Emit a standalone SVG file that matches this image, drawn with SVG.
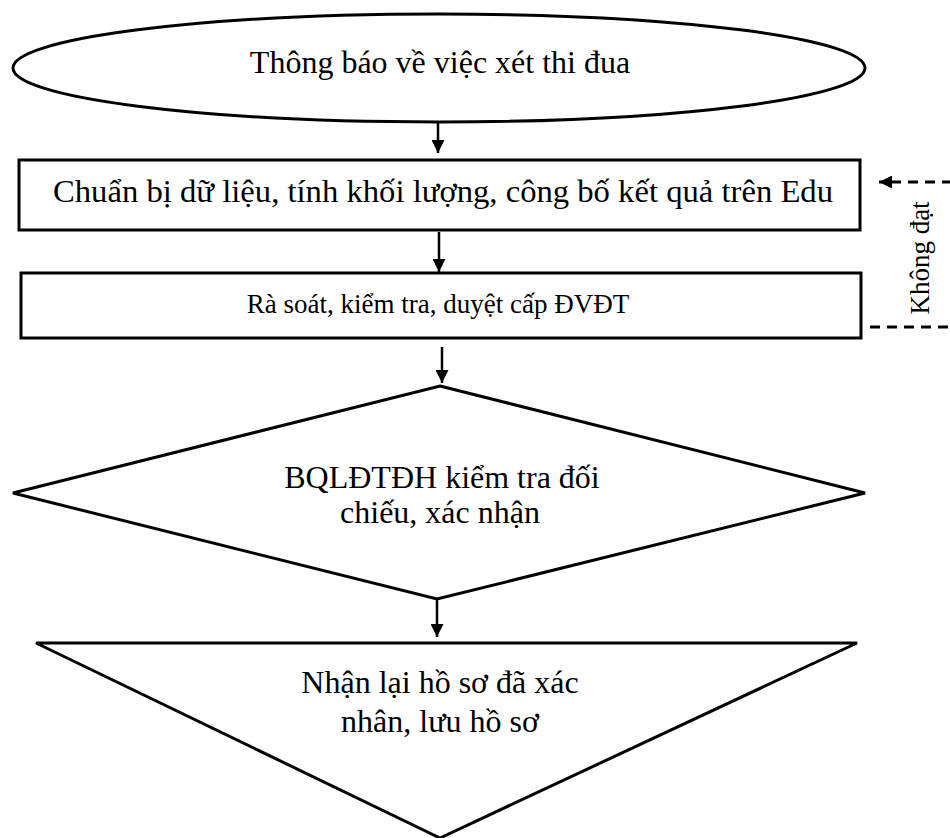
<svg xmlns="http://www.w3.org/2000/svg" width="950" height="838" viewBox="0 0 950 838">
<defs>
<style>
.shape{fill:#fff;stroke:#000;stroke-width:3}
.t{font-family:"Liberation Serif","Times New Roman",serif;font-size:32px;fill:#000;text-anchor:middle}
.s{font-size:27px}
.line{stroke:#000;stroke-width:2.5;fill:none}
.dash{stroke:#000;stroke-width:3;fill:none;stroke-dasharray:10 7}
</style>
<marker id="ah" viewBox="0 0 10 10" refX="10" refY="5" markerWidth="13" markerHeight="13" markerUnits="userSpaceOnUse" orient="auto">
<path d="M0,0 L10,5 L0,10 z" fill="#000"/>
</marker>
</defs>
<rect width="950" height="838" fill="#fff"/>
<g id="n1">
<ellipse class="shape" cx="439" cy="68" rx="426" ry="54"/>
<text class="t" x="440" y="73">Thông báo về việc xét thi đua</text>
</g>
<g id="n2">
<rect class="shape" x="19" y="160" width="841" height="70"/>
<text class="t" x="443" y="202" textLength="780" lengthAdjust="spacingAndGlyphs">Chuẩn bị dữ liệu, tính khối lượng, công bố kết quả trên Edu</text>
</g>
<g id="n3">
<rect class="shape" x="21" y="273" width="840" height="65"/>
<text class="t s" x="438" y="313">Rà soát, kiểm tra, duyệt cấp ĐVĐT</text>
</g>
<g id="n4">
<polygon class="shape" points="440,386 865,493 437,599 13,493"/>
<text class="t" x="442" y="488">BQLĐTĐH kiểm tra đối</text>
<text class="t" x="440" y="523">chiếu, xác nhận</text>
</g>
<g id="n5">
<polygon class="shape" points="36,643 857,643 440,838"/>
<text class="t" x="440" y="693">Nhận lại hồ sơ đã xác</text>
<text class="t" x="440" y="732">nhân, lưu hồ sơ</text>
</g>
<g id="connectors">
<line class="line" x1="438" y1="122" x2="438" y2="153" marker-end="url(#ah)"/>
<line class="line" x1="439" y1="232" x2="439" y2="272" marker-end="url(#ah)"/>
<line class="line" x1="442" y1="347" x2="442" y2="383" marker-end="url(#ah)"/>
<line class="line" x1="437" y1="600" x2="437" y2="637" marker-end="url(#ah)"/>
<line class="dash" x1="870" y1="327" x2="950" y2="327"/>
<line class="dash" x1="952" y1="182" x2="879" y2="182" marker-end="url(#ah)"/>
<text class="t s" transform="translate(929,258) rotate(-90)">Không đạt</text>
</g>
</svg>
